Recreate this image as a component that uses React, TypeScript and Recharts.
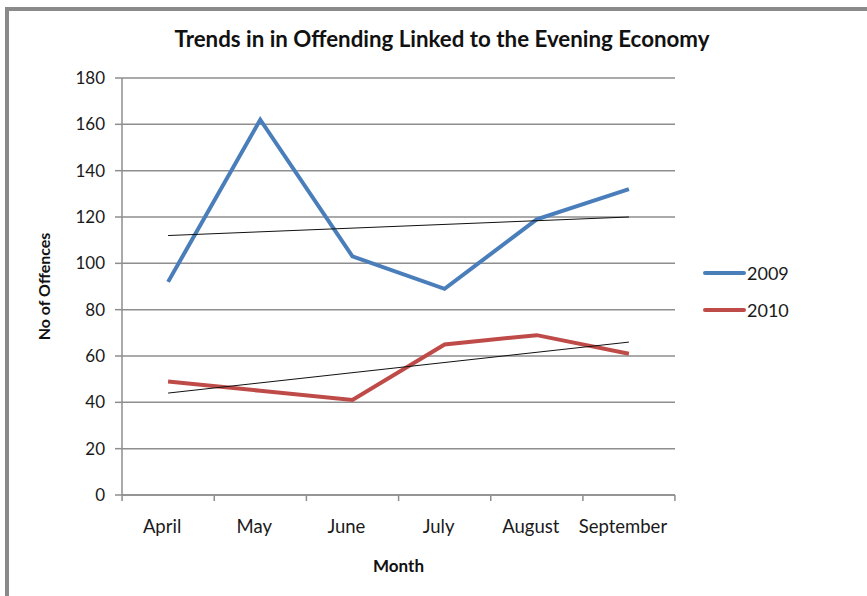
import { LineChart, Line, XAxis, YAxis, CartesianGrid, Legend, Label } from 'recharts';

const months = ["April", "May", "June", "July", "August", "September"];
const offences2009 = [92, 162, 103, 89, 119, 132];
const offences2010 = [49, 45, 41, 65, 69, 61];
// linear trendline end points (April, September)
const trend2009 = [112, 120];
const trend2010 = [44, 66];
const yTicks = [0, 20, 40, 60, 80, 100, 120, 140, 160, 180];

const BLUE = "#4a7ebb";
const RED = "#be4b48";
const GRID = "#8e8e8e";
const FONT = "Lato, 'Noto Sans', sans-serif";

const data = months.map((m, i) => ({
  month: m,
  y2009: offences2009[i],
  y2010: offences2010[i],
  t2009: i === 0 ? trend2009[0] : i === months.length - 1 ? trend2009[1] : null,
  t2010: i === 0 ? trend2010[0] : i === months.length - 1 ? trend2010[1] : null,
}));

// Excel style: tick marks sit between categories, labels in the middle
const MonthTick = (props: any) => {
  const { x, y, payload, index } = props;
  const half = 46;
  return (
    <g>
      <line x1={x - half} y1={y - 8} x2={x - half} y2={y - 2} stroke={GRID} strokeWidth={1.5} />
      {index === months.length - 1 && (
        <line x1={x + half} y1={y - 8} x2={x + half} y2={y - 2} stroke={GRID} strokeWidth={1.5} />
      )}
      <text x={x - 6} y={y + 30} textAnchor="middle" fontSize={18.5} fill="#1a1a1a" fontFamily={FONT}>
        {payload.value}
      </text>
    </g>
  );
};

const LegendContent = (props: any) => {
  const items = (props.payload || []).filter((p: any) => p.type !== 'none');
  return (
    <div>
      {items.map((p: any, i: number) => (
        <div key={i} style={{ display: 'flex', alignItems: 'center', height: 37 }}>
          <div style={{ width: 43, height: 4, background: p.color, borderRadius: 2 }} />
          <span style={{ fontFamily: FONT, fontSize: 18, color: '#1a1a1a', marginLeft: 1 }}>{p.value}</span>
        </div>
      ))}
    </div>
  );
};

export default function App() {
  return (
    <div style={{ position: 'fixed', left: 0, top: 0, width: 867, height: 596, overflow: 'hidden', background: '#fff' }}>
      <div style={{ position: 'absolute', left: 5, top: 7, width: 900, height: 640, border: '4px solid #8a8a8a', boxSizing: 'border-box' }} />
      <div style={{ position: 'absolute', left: 0, width: 884, top: 25, textAlign: 'center', fontFamily: FONT, fontWeight: 'bold', fontSize: 22.3, color: '#111' }}>
        Trends in in Offending Linked to the Evening Economy
      </div>
      <div style={{ position: 'absolute', left: 0, top: 0 }}>
        <LineChart width={867} height={596} data={data} margin={{ top: 78, right: 72, bottom: 24, left: 30 }}>
          <CartesianGrid vertical={false} stroke={GRID} strokeWidth={1.5} />
          <XAxis
            dataKey="month"
            scale="band"
            tickLine={false}
            axisLine={{ stroke: GRID, strokeWidth: 1.5 }}
            tick={<MonthTick />}
            height={77}
            interval={0}
          >
            <Label value="Month" position="insideBottom" offset={0} style={{ fontFamily: FONT, fontWeight: 'bold', fontSize: 17, fill: '#111' }} />
          </XAxis>
          <YAxis
            domain={[0, 180]}
            ticks={yTicks}
            width={92}
            tickSize={7}
            tickMargin={10}
            tickLine={{ stroke: GRID, strokeWidth: 1.5 }}
            axisLine={{ stroke: GRID, strokeWidth: 1.5 }}
            tick={{ fontFamily: FONT, fontSize: 17, fill: '#1a1a1a' }}
          >
            <Label value="No of Offences" angle={-90} position="insideLeft" offset={14} style={{ fontFamily: FONT, fontWeight: 'bold', fontSize: 16, fill: '#111', textAnchor: 'middle' }} />
          </YAxis>
          <Legend
            layout="vertical"
            verticalAlign="top"
            align="right"
            content={<LegendContent />}
            wrapperStyle={{ left: 703, top: 254, width: 120 }}
          />
          <Line type="linear" dataKey="y2009" name="2009" stroke={BLUE} strokeWidth={4} dot={false} isAnimationActive={false} />
          <Line type="linear" dataKey="y2010" name="2010" stroke={RED} strokeWidth={4} dot={false} isAnimationActive={false} />
          <Line type="linear" dataKey="t2009" stroke="#111" strokeWidth={1} dot={false} connectNulls legendType="none" isAnimationActive={false} />
          <Line type="linear" dataKey="t2010" stroke="#111" strokeWidth={1} dot={false} connectNulls legendType="none" isAnimationActive={false} />
        </LineChart>
      </div>
    </div>
  );
}
